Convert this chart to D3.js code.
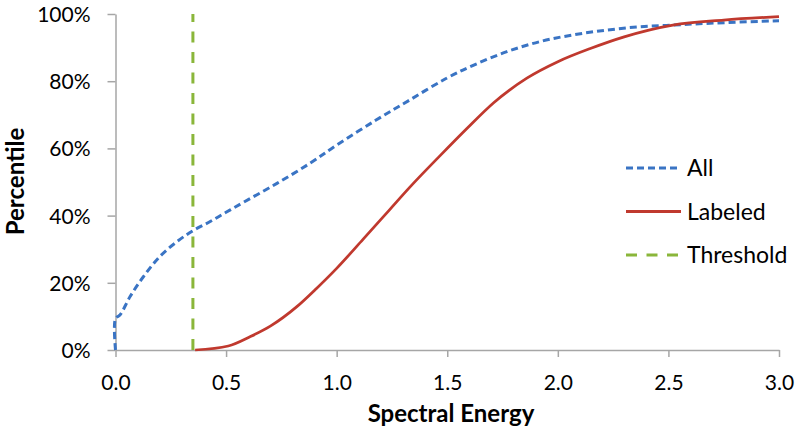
<!DOCTYPE html>
<html><head><meta charset="utf-8">
<script src="https://cdn.jsdelivr.net/npm/d3@7"></script>
<style>html,body{margin:0;padding:0;background:#fff;}svg{display:block;font-family:Lato,"Open Sans",sans-serif;}</style>
</head><body><svg id="c" width="800" height="431"></svg>
<script>
const allX = [0, 0, 0.02, 0.066, 0.126, 0.2, 0.277, 0.35, 0.43, 0.5, 0.58, 0.73, 0.88, 1.0, 1.18, 1.33, 1.5, 1.62, 1.77, 1.92, 2.07, 2.22, 2.37, 2.52, 2.67, 3.0];
const allY = [0, 9.4, 10.4, 15.9, 21.8, 27.8, 32.2, 35.5, 38.3, 41.0, 44.0, 49.6, 55.6, 61.0, 68.5, 74.4, 81.0, 84.8, 88.8, 91.8, 93.8, 95.2, 96.2, 96.7, 97.2, 98.0];
const labeledX = [0.36, 0.51, 0.61, 0.70, 0.82, 0.91, 1.0, 1.12, 1.24, 1.33, 1.47, 1.59, 1.71, 1.86, 2.0, 2.15, 2.3, 2.52, 2.75, 3.0];
const labeledY = [0, 1.2, 4.0, 7.1, 12.9, 18.4, 24.3, 33.0, 41.8, 48.4, 58.0, 66.0, 73.6, 80.9, 85.8, 89.8, 93.2, 96.7, 98.2, 99.2];
const thresholdX = [0.35, 0.35];
const thresholdY = [0, 100];
const xTicks = [0, 0.5, 1.0, 1.5, 2.0, 2.5, 3.0];
const yTicks = [0, 20, 40, 60, 80, 100];
const seriesNames = ["All", "Labeled", "Threshold"];

const svg = d3.select("#c");
const x = d3.scaleLinear().domain([0, 3]).range([115.5, 779]);
const y = d3.scaleLinear().domain([0, 100]).range([350, 14]);
const axisColor = "#a6a6a6";

const xa = svg.append("g").attr("transform", "translate(0,350)")
  .call(d3.axisBottom(x).tickValues(xTicks).tickFormat(d3.format(".1f")).tickSize(7).tickSizeOuter(0));
const ya = svg.append("g").attr("transform", "translate(115.5,0)")
  .call(d3.axisLeft(y).tickValues(yTicks).tickFormat(d => d + "%").tickSize(8).tickSizeOuter(0));
[xa, ya].forEach(a => {
  a.select(".domain").attr("stroke", axisColor).attr("stroke-width", 1.5);
  a.selectAll(".tick line").attr("stroke", axisColor).attr("stroke-width", 1.5);
  a.selectAll(".tick text").attr("fill", "#000").style("font-size", "21px").style("font-family", "Lato, sans-serif");
});
xa.selectAll(".tick text").attr("dy", "0").attr("y", 40);
ya.selectAll(".tick text").attr("x", -25).attr("dy", "0.36em");

const lineM = d3.line().x(d => x(d[0])).y(d => y(d[1])).curve(d3.curveMonotoneX);
const lineL = d3.line().x(d => x(d[0])).y(d => y(d[1]));
const colors = {All: "#3a74c4", Labeled: "#c0392e", Threshold: "#8ab63a"};
const dashes = {All: "7,4", Labeled: null, Threshold: "11,9.5"};

svg.append("path").datum(thresholdX.map((v, i) => [v, thresholdY[i]]))
  .attr("d", lineL).attr("fill", "none").attr("stroke", colors.Threshold).attr("stroke-width", 3).attr("stroke-dasharray", dashes.Threshold);
svg.append("path").datum(allX.map((v, i) => [v, allY[i]]))
  .attr("d", d3.line().x(d => x(d[0])).y(d => y(d[1])).curve(d3.curveCatmullRom.alpha(0.5)))
  .attr("fill", "none").attr("stroke", colors.All).attr("stroke-width", 3).attr("stroke-dasharray", dashes.All);
svg.append("path").datum(labeledX.map((v, i) => [v, labeledY[i]]))
  .attr("d", lineM).attr("fill", "none").attr("stroke", colors.Labeled).attr("stroke-width", 2.75);

const lg = svg.append("g");
seriesNames.forEach((n, i) => {
  const yy = 168 + i * 43.5;
  lg.append("line").attr("x1", 626).attr("x2", 681).attr("y1", yy).attr("y2", yy)
    .attr("stroke", colors[n]).attr("stroke-width", 3).attr("stroke-dasharray", dashes[n]);
  lg.append("text").attr("x", 687).attr("y", yy).attr("dy", "0.36em")
    .style("font-size", "23px").attr("fill", "#000").text(n);
});

svg.append("text").attr("x", 451).attr("y", 421.5).attr("text-anchor", "middle")
  .style("font-size", "24px").style("font-weight", "bold").text("Spectral Energy");
svg.append("text").attr("transform", "translate(23.5,181.5) rotate(-90)").attr("text-anchor", "middle")
  .style("font-size", "24px").style("font-weight", "bold").text("Percentile");
</script></body></html>
